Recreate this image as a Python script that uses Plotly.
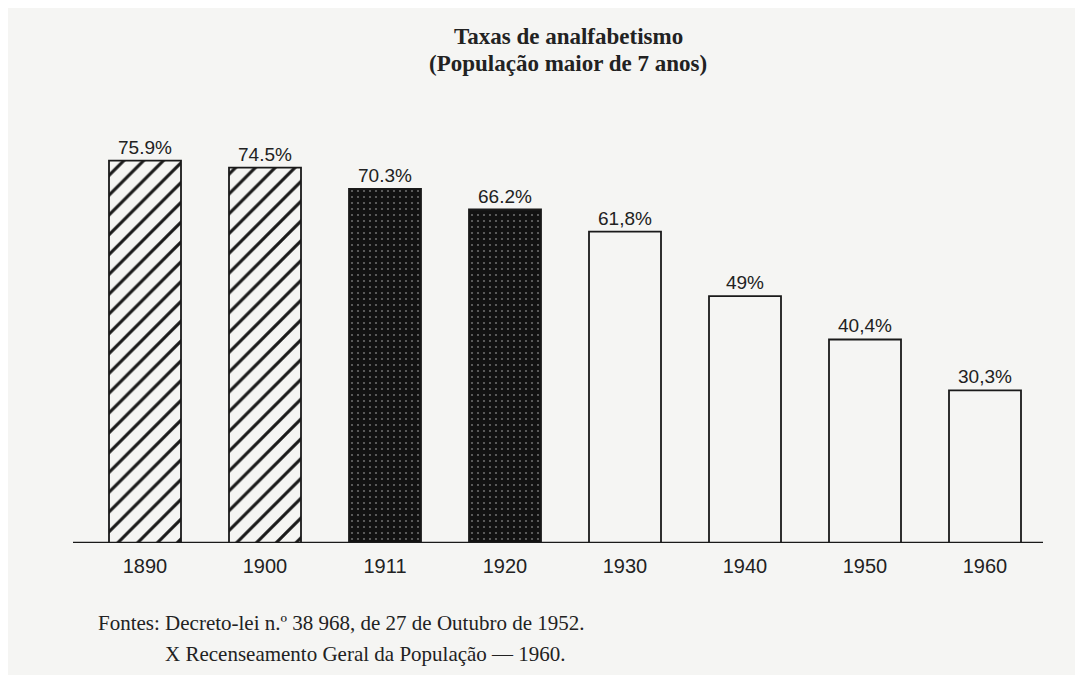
import plotly.graph_objects as go

years = ["1890", "1900", "1911", "1920", "1930", "1940", "1950", "1960"]
rates = [75.9, 74.5, 70.3, 66.2, 61.8, 49.0, 40.4, 30.3]
rate_labels = ["75.9%", "74.5%", "70.3%", "66.2%", "61,8%", "49%", "40,4%", "30,3%"]

title_lines = ["Taxas de analfabetismo", "(População maior de 7 anos)"]
source_lines = ["Fontes: Decreto-lei n.º 38 968, de 27 de Outubro de 1952.",
                "X Recenseamento Geral da População — 1960."]

BG = "#f5f5f3"
INK = "#1a1a1a"
SANS = "Liberation Sans, Arial, sans-serif"
SERIF = "Liberation Serif, Times New Roman, serif"

# page body has an 8px margin: figure is offset by (8, 8)
OFF = 8
W, H = 1083 - 2 * OFF, 683 - 2 * OFF
L, T = 85 - OFF, 140 - OFF
PW, PH = 960, 403
R, B = W - L - PW, H - T - PH


def px(xabs):
    return (xabs - OFF - L) / PW


def py(yabs):
    return 1 - (yabs - OFF - T) / PH


groups = [
    (years[0:2], rates[0:2], rate_labels[0:2],
     dict(color=BG, pattern=dict(shape="/", fgcolor=INK, bgcolor=BG, size=14, solidity=0.22, fillmode="replace"))),
    (years[2:4], rates[2:4], rate_labels[2:4],
     dict(color=INK, pattern=dict(shape=".", fgcolor="#6a6a6a", bgcolor="#121212", size=6, solidity=0.1, fillmode="replace"))),
    (years[4:], rates[4:], rate_labels[4:],
     dict(color=BG)),
]

fig = go.Figure()
for xs, ys, labs, mk in groups:
    mk = dict(mk)
    mk["line"] = dict(color=INK, width=1.8)
    fig.add_trace(go.Bar(
        x=xs, y=ys, text=labs, textposition="outside", cliponaxis=False,
        textfont=dict(family=SANS, size=19, color="#222222"),
        marker=mk, showlegend=False, hoverinfo="skip",
    ))

fig.update_layout(
    width=W, height=H,
    paper_bgcolor=BG, plot_bgcolor=BG,
    margin=dict(l=L, r=R, t=T, b=B),
    bargap=0.4,
    xaxis=dict(type="category", categoryorder="array", categoryarray=years,
               showgrid=False, zeroline=False, showline=False, ticks="",
               tickfont=dict(family=SANS, size=20, color="#222222"),
               ticklabelstandoff=9),
    yaxis=dict(range=[0, 80], visible=False, showgrid=False, zeroline=False),
    shapes=[dict(type="line", xref="paper", yref="y", x0=px(73), x1=px(1043), y0=0, y1=0,
                 line=dict(color=INK, width=2.5))],
)

for txt, yabs in zip(title_lines, [37, 63]):
    fig.add_annotation(xref="paper", yref="paper", x=px(568), y=py(yabs),
                       text="<b>" + txt + "</b>", showarrow=False,
                       xanchor="center", yanchor="middle",
                       font=dict(family=SERIF, size=23, color="#222222"))

for txt, xabs, yabs in zip(source_lines, [96, 163], [623, 654]):
    fig.add_annotation(xref="paper", yref="paper", x=px(xabs), y=py(yabs),
                       text=txt, showarrow=False, xanchor="left", yanchor="middle",
                       font=dict(family=SERIF, size=21, color="#222222"))

fig.write_html("out.html")
